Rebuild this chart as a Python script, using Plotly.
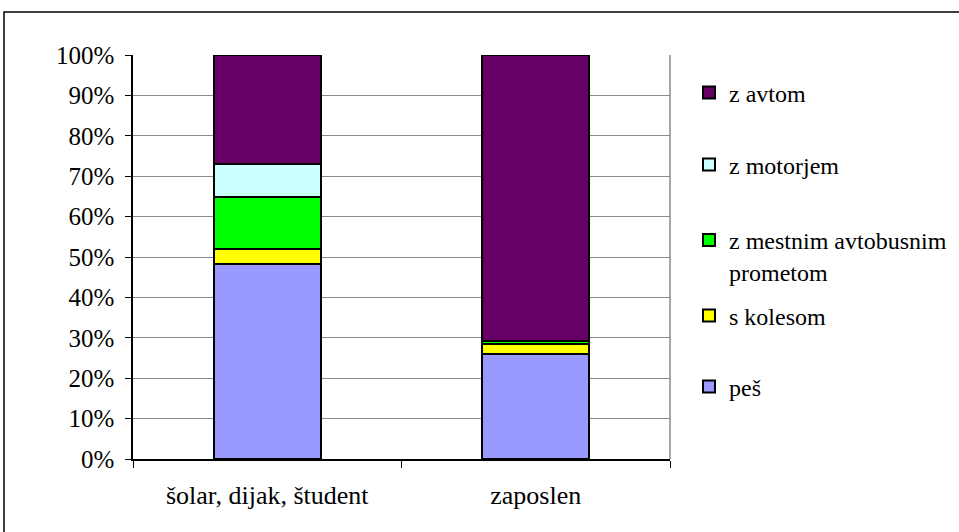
import plotly.graph_objects as go

categories = ["šolar, dijak, študent", "zaposlen"]
series_names = ["peš", "s kolesom", "z mestnim avtobusnim<br>prometom", "z motorjem", "z avtom"]
pes = [48.3, 26.0]
kolo = [3.6, 2.5]
bus = [12.9, 0.7]
motor = [8.2, 0.0]
avto = [27.0, 70.8]
colors = ["#9999FF", "#FFFF00", "#00FF00", "#CCFFFF", "#660066"]
y_ticks = [0, 10, 20, 30, 40, 50, 60, 70, 80, 90, 100]
y_tick_labels = [f"{v}%" for v in y_ticks]

FONT = "Times New Roman, Liberation Serif, DejaVu Serif, serif"
FS = 25
FS_CAT = 26
FS_LEG = 24

W, H = 959, 532
PL, PR, PT, PB = 133, 670, 55, 459
L, T = PL, PT
R = W - PR
B = H - PB
pw, ph = PR - PL, PB - PT

def pyp(p):
    return (PB - p) / ph

def pxp(p):
    return (p - PL) / pw

values = [pes, kolo, bus, motor, avto]
legend_ids = ["legend5", "legend4", "legend3", "legend2", "legend"]
legend_centers = [387, 316, 256, 165, 93]

fig = go.Figure()
for name, vals, col, lid in zip(series_names, values, colors, legend_ids):
    fig.add_trace(go.Bar(
        x=categories, y=vals, name=name,
        marker=dict(color=col, line=dict(color="black", width=2)),
        legend=lid, showlegend=True,
    ))

leg_common = dict(x=pxp(689), xanchor="left", yanchor="middle",
                  font=dict(family=FONT, size=FS_LEG, color="black"),
                  bgcolor="rgba(0,0,0,0)", valign="top", itemclick=False,
                  visible=True)
layout_legends = {}
for lid, cy in zip(legend_ids, legend_centers):
    layout_legends[lid] = dict(y=pyp(cy), **leg_common)

fig.update_layout(
    width=W, height=H,
    margin=dict(l=L, r=R, t=T, b=B, autoexpand=False),
    barmode="stack", bargap=0.6,
    showlegend=True,
    paper_bgcolor="white", plot_bgcolor="white",
    font=dict(family=FONT, size=FS, color="black"),
    xaxis=dict(showline=True, linecolor="black", linewidth=1.5,
               ticks="outside", ticklen=7, tickcolor="black", tickson="boundaries",
               ticklabelstandoff=12, showgrid=False, automargin=False,
               tickfont=dict(family=FONT, size=FS_CAT, color="black")),
    yaxis=dict(range=[0, 100], tickvals=y_ticks, ticktext=y_tick_labels,
               showline=True, linecolor="black", linewidth=1.5,
               ticks="outside", ticklen=6, tickcolor="black",
               showgrid=True, gridcolor="#8a8a8a", gridwidth=1,
               ticklabelstandoff=6, zeroline=False, automargin=False,
               tickfont=dict(family=FONT, size=FS, color="black")),
    shapes=[
        dict(type="line", xref="paper", yref="paper", x0=1, x1=1, y0=0, y1=1,
             line=dict(color="#8a8a8a", width=1.5), layer="below"),
        dict(type="rect", xref="paper", yref="paper",
             x0=pxp(4), x1=pxp(1000),
             y0=pyp(600), y1=pyp(12),
             line=dict(color="black", width=1.5), layer="below"),
    ],
    **layout_legends,
)

fig.write_html("out.html",
               config={"displayModeBar": False},
               post_script="document.body.style.margin='0';document.body.style.padding='0';")
